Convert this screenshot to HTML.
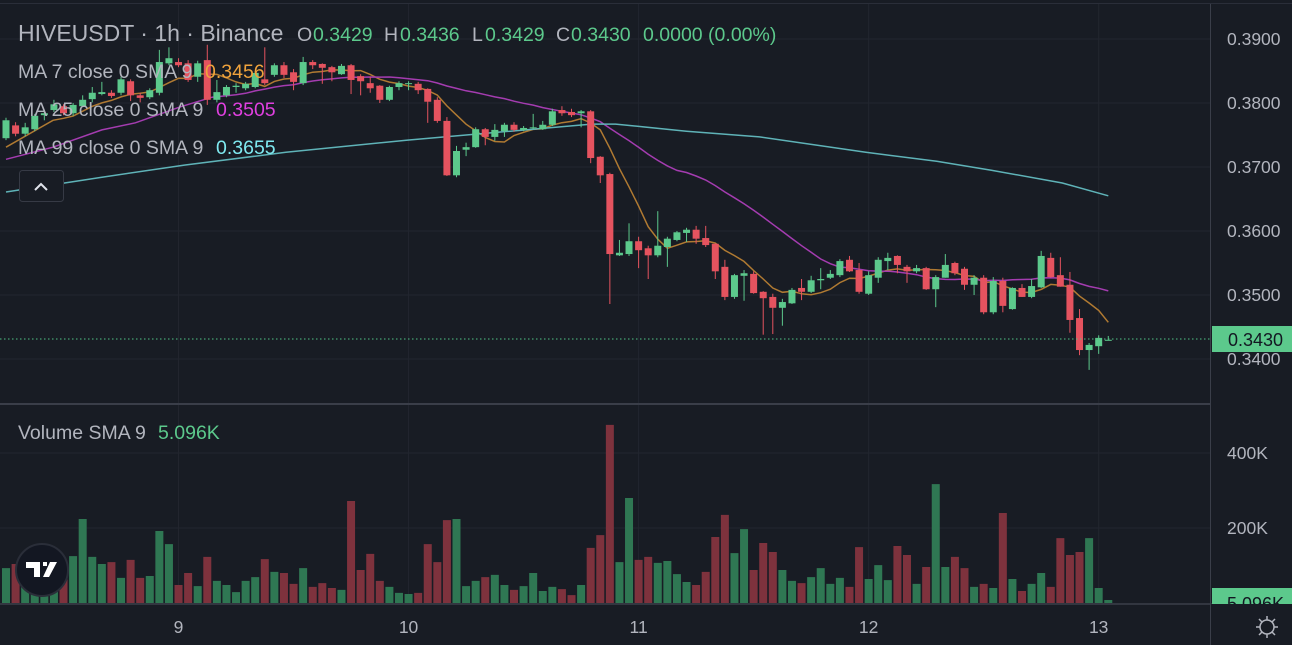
<!DOCTYPE html>
<html><head><meta charset="utf-8"><style>
html,body{margin:0;padding:0;background:#181c24;}
svg{display:block;font-family:"Liberation Sans",sans-serif;}
</style></head><body>
<svg id="c" width="1292" height="645" viewBox="0 0 1292 645" xmlns="http://www.w3.org/2000/svg">
<rect x="0" y="0" width="1292" height="645" fill="#181c24"/>
<g id="grid"></g>
<g id="vol"></g>
<g id="ma"></g>
<g id="candles"></g>
<line x1="0" y1="339" x2="1210" y2="339" stroke="#4fc286" stroke-width="1" stroke-dasharray="1.5 2.5"/>
<line x1="0" y1="3.5" x2="1292" y2="3.5" stroke="#2a2e39" stroke-width="1"/>
<line x1="0" y1="404" x2="1210" y2="404" stroke="#3a3e49" stroke-width="2"/>
<line x1="0" y1="604" x2="1292" y2="604" stroke="#3a3e49" stroke-width="1.5"/>
<line x1="1210.5" y1="4" x2="1210.5" y2="645" stroke="#3a3e49" stroke-width="1"/>
<g id="axis" fill="#b2b5be" font-size="17.5"></g>

<rect x="1212" y="326" width="80" height="26" fill="#5cc98c"/>
<text x="1228" y="346" font-size="18" fill="#131722">0.3430</text>
<rect x="1212" y="588" width="80" height="16" fill="#5cc98c"/>
<text x="1227" y="610" font-size="18" fill="#131722">5.096K</text>
<rect x="1210" y="604" width="82" height="41" fill="#181c24"/>
<line x1="1210.5" y1="604" x2="1210.5" y2="645" stroke="#3a3e49"/>
<g fill="none" stroke="#b2b5be" stroke-width="1.5">
<circle cx="1267" cy="627" r="7"/>
<path d="M1267 616v4M1267 634v4M1256 627h4M1274 627h4M1259 619l3 3M1272 632l3 3M1259 635l3-3M1272 622l3-3"/>
</g>

<g>
<text x="18" y="41" font-size="23" fill="#b2b5be">HIVEUSDT · 1h · Binance</text>
<g font-size="19.5">
<text x="297" y="41" fill="#b2b5be">O</text><text x="313" y="41" fill="#5cc98c">0.3429</text>
<text x="384" y="41" fill="#b2b5be">H</text><text x="400" y="41" fill="#5cc98c">0.3436</text>
<text x="472" y="41" fill="#b2b5be">L</text><text x="485" y="41" fill="#5cc98c">0.3429</text>
<text x="556" y="41" fill="#b2b5be">C</text><text x="571" y="41" fill="#5cc98c">0.3430</text>
<text x="643" y="41" fill="#5cc98c">0.0000 (0.00%)</text>
</g>
</g>
<g font-size="19.5">
<text x="18" y="78" fill="#b2b5be">MA 7 close 0 SMA 9</text><text x="205" y="78" fill="#f0a33c">0.3456</text>
<text x="18" y="116" fill="#b2b5be">MA 25 close 0 SMA 9</text><text x="216" y="116" fill="#e040e0">0.3505</text>
<text x="18" y="154" fill="#b2b5be">MA 99 close 0 SMA 9</text><text x="216" y="154" fill="#7fe9f0">0.3655</text>
</g>
<g>
<rect x="19.5" y="170.5" width="44" height="31" rx="3" fill="#181c24" stroke="#363a45"/>
<path d="M35 190l6-6 6 6" fill="none" stroke="#e0e3eb" stroke-width="2"/>
</g>
<text x="18" y="439" font-size="19.5" fill="#b2b5be">Volume SMA 9</text>
<text x="158" y="439" font-size="19.5" fill="#5cc98c">5.096K</text>
<g>
<circle cx="42" cy="570" r="26" fill="#131722" stroke="#2a2e39" stroke-width="2"/>
<path d="M26 562h14v15h-6v-9h-8z M43 562h4v4h-4z M50 562h7l-8 15h-6z" fill="#ffffff"/>
</g>
</svg>
<script>
// ---- data (prices x10000) ----
const opens=[3745,3765,3752,3759,3781,3789,3795,3784,3795,3806,3814,3816,3816,3834,3812,3809,3816,3862,3864,3862,3841,3867,3805,3812,3825,3823,3825,3837,3844,3859,3848,3831,3864,3861,3856,3845,3859,3842,3831,3827,3805,3825,3830,3830,3822,3805,3772,3687,3727,3731,3759,3747,3756,3766,3758,3761,3759,3766,3789,3786,3784,3787,3716,3689,3562,3564,3584,3573,3562,3575,3586,3597,3602,3589,3580,3544,3497,3530,3533,3505,3497,3480,3487,3511,3505,3523,3527,3531,3555,3539,3502,3527,3553,3561,3544,3537,3542,3509,3527,3550,3541,3516,3527,3473,3522,3478,3511,3497,3512,3558,3531,3516,3464,3414,3420,3429];
const highs=[3777,3770,3769,3783,3789,3805,3798,3800,3812,3825,3833,3820,3841,3837,3816,3823,3883,3887,3870,3867,3866,3891,3836,3828,3831,3833,3850,3887,3862,3864,3853,3872,3867,3862,3858,3861,3861,3845,3841,3828,3827,3834,3834,3833,3823,3809,3778,3733,3738,3762,3761,3767,3769,3770,3764,3783,3772,3791,3795,3791,3789,3789,3717,3691,3586,3612,3591,3577,3631,3591,3600,3605,3608,3608,3581,3555,3533,3539,3537,3506,3502,3494,3511,3525,3530,3542,3539,3556,3561,3550,3537,3559,3566,3562,3547,3547,3544,3531,3564,3552,3544,3531,3531,3528,3527,3512,3517,3525,3569,3566,3559,3536,3478,3425,3437,3436];
const lows=[3742,3748,3748,3756,3773,3786,3781,3780,3794,3801,3812,3808,3812,3803,3801,3806,3812,3859,3856,3833,3833,3797,3801,3809,3816,3820,3823,3828,3841,3839,3820,3828,3853,3830,3834,3844,3814,3812,3816,3800,3803,3820,3820,3814,3769,3769,3686,3684,3717,3730,3734,3741,3747,3755,3756,3759,3758,3764,3780,3778,3762,3706,3675,3486,3561,3561,3542,3525,3559,3544,3584,3583,3580,3575,3525,3492,3494,3491,3502,3438,3439,3452,3486,3492,3503,3509,3525,3528,3536,3502,3500,3519,3539,3534,3519,3534,3508,3481,3527,3531,3508,3500,3470,3470,3473,3477,3497,3495,3511,3527,3513,3441,3406,3383,3408,3429];
const closes=[3773,3752,3762,3780,3784,3798,3784,3797,3805,3816,3817,3811,3837,3812,3808,3820,3864,3870,3859,3836,3862,3805,3817,3825,3827,3830,3847,3831,3859,3844,3833,3864,3859,3855,3848,3858,3836,3834,3823,3805,3825,3831,3831,3820,3802,3772,3687,3725,3731,3759,3747,3758,3766,3758,3761,3762,3766,3787,3784,3781,3787,3714,3687,3564,3566,3584,3570,3562,3577,3588,3598,3602,3588,3578,3537,3497,3531,3534,3503,3495,3480,3489,3508,3505,3523,3525,3533,3553,3537,3505,3531,3555,3558,3547,3537,3542,3509,3528,3547,3534,3516,3527,3473,3522,3483,3511,3497,3514,3561,3528,3513,3461,3414,3422,3433,3430];
const volumes=[93,104,80,85,70,60,80,125,224,123,104,109,67,115,67,72,192,157,48,80,45,123,59,48,29,59,69,117,83,80,51,93,43,53,40,35,272,88,131,59,43,27,24,27,157,109,221,224,45,59,69,75,48,35,45,80,32,43,37,21,48,147,181,475,109,280,115,123,107,112,77,56,48,83,176,235,133,197,88,160,136,88,59,53,69,93,51,67,43,149,64,101,61,152,128,51,96,317,96,123,93,43,51,40,240,64,32,51,80,43,173,128,136,173,40,8]; // thousands
// early MA values before a full window is available (index, price x10000)
const ma7SeedIdx=[0,4.9];
const ma7SeedVal=[3731,3773];
const ma25SeedIdx=[0,4.9,10,13.5,18.2,21.5];
const ma25SeedVal=[3712,3731,3758,3769,3794,3809];
const ma99Idx=[0,10,18.6,29.2,41.9,52.6,61.1,63.6,71,78.6,89.7,97.1,102.8,110.2,115];
const ma99Val=[3661,3684,3703,3723,3742,3756,3767,3767,3756,3747,3723,3709,3695,3675,3655];
const priceTicks=[0.39,0.38,0.37,0.36,0.35,0.34];
const priceTickLabels=["0.3900","0.3800","0.3700","0.3600","0.3500","0.3400"];
const volTicks=[400,200];
const volTickLabels=["400K","200K"];
const dateIdx=[18,42,66,90,114];
const dateLabels=["9","10","11","12","13"];

// ---- scales ----
const X=i=>6+9.585*i;
const Y=p=>39+(0.39-p)*6400;
const P=v=>v/10000;
const VY=v=>603-v*0.375;
const NS="http://www.w3.org/2000/svg";
function mk(tag,parent,attrs){const e=document.createElementNS(NS,tag);for(const k in attrs)e.setAttribute(k,attrs[k]);parent.appendChild(e);return e;}
const G={grid:document.getElementById('grid'),vol:document.getElementById('vol'),ma:document.getElementById('ma'),c:document.getElementById('candles'),ax:document.getElementById('axis')};

// grid
priceTicks.forEach((p,k)=>{
  const l=mk('line',G.grid,{x1:0,x2:1210,y1:Y(p),y2:Y(p),stroke:'#22262f','stroke-width':1});
  
  
  const t=mk('text',G.ax,{x:1227,y:Y(p)+6});
  
  
  t.textContent=priceTickLabels[k];
});
volTicks.forEach((v,k)=>{
  const l=mk('line',G.grid,{x1:0,x2:1210,y1:VY(v),y2:VY(v),stroke:'#22262f','stroke-width':1});
  
  
  const t=mk('text',G.ax,{x:1227,y:VY(v)+6});
  
  
  t.textContent=volTickLabels[k];
});
dateIdx.forEach((d,k)=>{
  const l=mk('line',G.grid,{x1:X(d),x2:X(d),y1:4,y2:603,stroke:'#22262f','stroke-width':1});
  
  
  const t=mk('text',G.ax,{x:X(d),y:633,'text-anchor':'middle'});
  
  
  t.textContent=dateLabels[k];
});

// volume
volumes.forEach((v,i)=>{
  const up=closes[i]>=opens[i];
  const r=mk('rect',G.vol,{x:X(i)-4,y:VY(v),width:8,height:603-VY(v),fill:up?'#2f7753':'#7e323d'});
  
  
});

// moving averages
function sma(n){const out=[];for(let i=n-1;i<closes.length;i++){let s=0;for(let j=i-n+1;j<=i;j++)s+=closes[j];out.push([i,s/n]);}return out;}
function line(pts,color,name){
  const d=pts.map((p,k)=>(k?'L':'M')+X(p[0]).toFixed(1)+' '+Y(P(p[1])).toFixed(1)).join(' ');
  const e=mk('path',G.ma,{d:d,fill:'none',stroke:color,'stroke-width':1.5});
  
  
}
line(ma7SeedIdx.map((x,k)=>[x,ma7SeedVal[k]]).concat(sma(7)),'#b07a32','ma7-line');
line(ma25SeedIdx.map((x,k)=>[x,ma25SeedVal[k]]).concat(sma(25)),'#a43cb0','ma25-line');
line(ma99Idx.map((x,k)=>[x,ma99Val[k]]),'#5fb3b8','ma99-line');

// candles
opens.forEach((o,i)=>{
  const c=closes[i],up=c>=o,col=up?'#5cc98c':'#e5535f';
  const g=mk('g',G.c,{});
  
  
  mk('line',g,{x1:X(i),x2:X(i),y1:Y(P(highs[i])),y2:Y(P(lows[i])),stroke:col,'stroke-width':1});
  const t=Y(P(Math.max(o,c))),b=Y(P(Math.min(o,c)));
  mk('rect',g,{x:X(i)-3.5,y:t,width:7,height:Math.max(1,b-t),fill:col});
});
</script>
</body></html>
